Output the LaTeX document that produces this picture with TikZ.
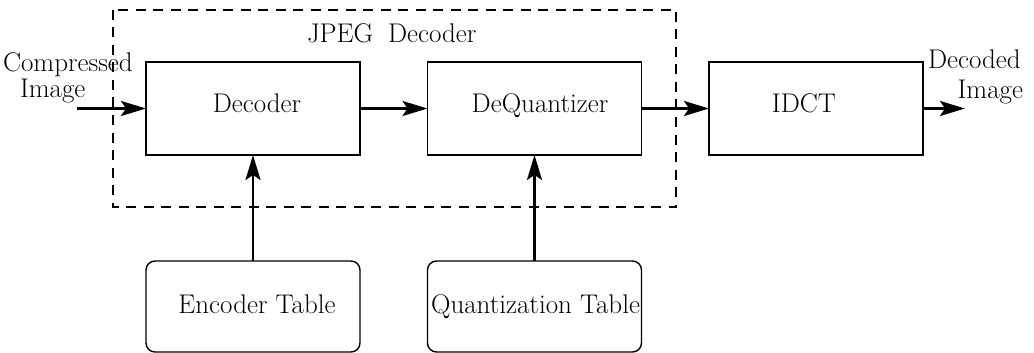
\documentclass[tikz,border=0pt]{standalone}
\usetikzlibrary{arrows.meta}
\begin{document}
\begin{tikzpicture}[x=1pt,y=-1pt,
  every node/.style={font=\fontsize{27}{31}\selectfont, inner sep=0pt, outer sep=0pt},
  block/.style={draw, line width=1.4pt, minimum width=214pt, minimum height=93pt},
  tablebox/.style={draw, line width=1.4pt, rounded corners=9pt, minimum width=214pt, minimum height=91pt},
  flow/.style={line width=2.6pt, -{Stealth[length=25pt,width=15pt,inset=5pt]}},
  groupframe/.style={line width=1.3pt, dash pattern=on 10pt off 7.5pt}
]
\useasboundingbox (0,0) rectangle (1034,353);

% decoder stage boundary
\draw[groupframe] (113,10) rectangle (676,207);
\node[anchor=base west] (grp) at (307,43) {JPEG\hspace{0.55em}Decoder};

% processing blocks
\node[block] (dec) at (253,108.5) {};
\node[anchor=base] (decT) at (257,112) {Decoder};
\node[block] (deq) at (534.5,108.5) {};
\node[anchor=base] (deqT) at (540,112) {DeQuantizer};
\node[block] (idct) at (816,108.5) {};
\node[anchor=base] (idctT) at (804,112) {IDCT};

% lookup tables
\node[tablebox] (enc) at (253,306.5) {};
\node[anchor=base] (encT) at (257,313) {Encoder Table};
\node[tablebox] (qt) at (534.5,306.5) {};
\node[anchor=base] (qtT) at (535.5,313) {Quantization Table};

% input and output labels
\node[anchor=base west] (cin1) at (3,72) {Compressed};
\node[anchor=base west] (cin2) at (20,98) {Image};
\node[anchor=base west] (cout1) at (928,69) {Decoded};
\node[anchor=base east] (cout2) at (1023,99) {Image};

\coordinate (src) at (77,108.5);
\coordinate (dst) at (965,108.5);

% data flow
\draw[flow] (src) -- (dec.west);
\draw[flow] (dec.east) -- (deq.west);
\draw[flow] (deq.east) -- (idct.west);
\draw[flow] (idct.east) -- (dst);
\draw[flow] (enc.north) -- (dec.south);
\draw[flow] (qt.north) -- (deq.south);
\end{tikzpicture}
\end{document}
